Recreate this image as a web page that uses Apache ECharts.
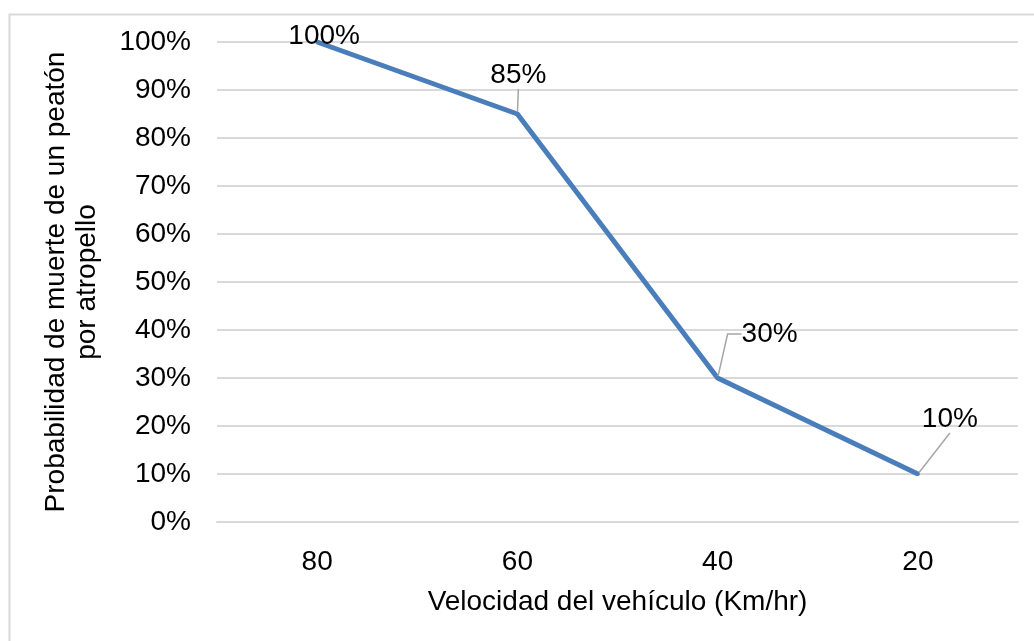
<!DOCTYPE html>
<html>
<head>
<meta charset="utf-8">
<script src="https://cdn.jsdelivr.net/npm/echarts@6/dist/echarts.min.js"></script>
<style>
  html, body { margin: 0; padding: 0; background: #fff; }
  #chart { width: 1034px; height: 641px; }
</style>
</head>
<body>
<div id="chart"></div>
<script>
// Vehicle speed (km/h) and probability of pedestrian death
const speeds = ['80', '60', '40', '20'];
const deathProbability = [1.00, 0.85, 0.30, 0.10];
const yTickValues = [0, 0.1, 0.2, 0.3, 0.4, 0.5, 0.6, 0.7, 0.8, 0.9, 1.0];

// label offsets from their points (px), whether a guide line is drawn,
// and the horizontal elbow of each guide line
const labelShift = [[7, 15], [1, -18], [52, -23], [32, -34]];
const showLeader = [false, true, true, true];
const leaderElbow = [0, 0, 14, 0];

const FONT = "'Liberation Sans', Arial, sans-serif";
const pct = v => Math.round(v * 100) + '%';

const chart = echarts.init(document.getElementById('chart'));
chart.setOption({
  animation: false,
  backgroundColor: '#ffffff',
  textStyle: { fontFamily: FONT },
  graphic: [{
    type: 'rect',
    left: 7, top: 12,
    shape: { width: 1060, height: 660 },
    style: { fill: 'none', stroke: '#d9d9d9', lineWidth: 2 },
    silent: true
  }],
  grid: { left: 217, right: 16, top: 42, bottom: 119 },
  xAxis: {
    type: 'category',
    data: speeds,
    boundaryGap: true,
    name: 'Velocidad del vehículo (Km/hr)',
    nameLocation: 'middle',
    nameGap: 66,
    nameTextStyle: { fontSize: 28, color: '#000', fontFamily: FONT },
    axisLine: { show: true, lineStyle: { color: '#d9d9d9', width: 2 } },
    axisTick: { show: false },
    axisLabel: { fontSize: 28, color: '#000', margin: 26, fontFamily: FONT }
  },
  yAxis: {
    type: 'value',
    min: yTickValues[0],
    max: yTickValues[yTickValues.length - 1],
    interval: 0.1,
    name: 'Probabilidad de muerte de un peatón\npor atropello',
    nameLocation: 'middle',
    nameGap: 114,
    nameTextStyle: { fontSize: 28, color: '#000', lineHeight: 31, fontFamily: FONT },
    axisLine: { show: false },
    axisTick: { show: false },
    axisLabel: { fontSize: 28, color: '#000', margin: 26, formatter: pct, fontFamily: FONT },
    splitLine: { lineStyle: { color: '#d9d9d9', width: 2 } }
  },
  series: [{
    type: 'line',
    data: deathProbability.map((v, i) => ({
      value: v,
      labelLine: { show: showLeader[i], length2: leaderElbow[i] }
    })),
    symbol: 'circle',
    symbolSize: 4,
    showSymbol: true,
    lineStyle: { color: '#4a7ebb', width: 5 },
    itemStyle: { color: '#4a7ebb' },
    label: {
      show: true,
      position: 'top',
      distance: 5,
      fontSize: 28,
      color: '#000',
      fontFamily: FONT,
      formatter: p => pct(p.value)
    },
    labelLine: { show: true, lineStyle: { color: '#a6a6a6', width: 1.5 } },
    labelLayout: p => ({ dx: labelShift[p.dataIndex][0], dy: labelShift[p.dataIndex][1] })
  }]
});
</script>
</body>
</html>
